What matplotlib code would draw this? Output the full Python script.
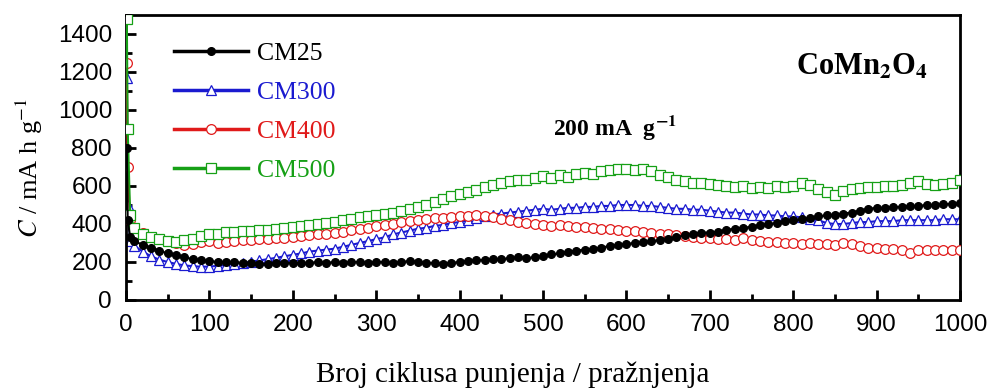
import numpy as np
import matplotlib.pyplot as plt
from matplotlib.ticker import MultipleLocator

plt.rcParams['mathtext.fontset'] = 'stix'

# cycle numbers: first few cycles, then every 10 cycles
cycles = [1, 2, 5] + list(range(10, 1001, 10))

cm25 = [800, 420, 330,
        310, 290, 275, 260, 245, 235, 225, 215, 210, 205,
        200, 200, 200, 195, 195, 190, 190, 195, 195, 195,
        195, 195, 200, 195, 200, 195, 200, 200, 195, 200,
        200, 195, 200, 205, 200, 195, 195, 190, 195, 200,
        205, 210, 210, 215, 215, 220, 225, 220, 225, 230,
        240, 245, 255, 260, 265, 270, 275, 285, 290, 295,
        300, 305, 310, 315, 320, 330, 340, 350, 355, 355,
        360, 370, 375, 380, 385, 395, 400, 405, 415, 420,
        425, 430, 440, 445, 450, 455, 460, 470, 480, 485,
        485, 490, 490, 495, 495, 500, 500, 505, 505, 510]

cm300 = [1170, 500, 310,
         285, 255, 230, 212, 200, 190, 182, 178, 175, 176,
         180, 185, 190, 196, 202, 208, 215, 222, 230, 238,
         245, 255, 260, 265, 270, 280, 290, 300, 310, 320,
         330, 345, 355, 365, 375, 380, 390, 395, 405, 410,
         420, 430, 440, 450, 455, 460, 465, 470, 475, 480,
         475, 480, 485, 485, 490, 490, 495, 495, 500, 500,
         500, 495, 495, 490, 485, 480, 480, 475, 475, 470,
         465, 460, 460, 455, 450, 450, 445, 445, 440, 440,
         435, 425, 420, 405, 400, 400, 405, 410, 410, 415,
         415, 415, 420, 420, 420, 420, 420, 425, 425, 425]

cm400 = [1250, 700, 420,
         380, 355, 330, 320, 310, 300, 290, 295, 305, 310,
         300, 305, 310, 315, 315, 320, 320, 325, 325, 330,
         335, 340, 345, 350, 355, 360, 370, 375, 380, 390,
         395, 400, 410, 415, 420, 425, 430, 430, 435, 440,
         440, 445, 440, 435, 425, 420, 410, 405, 400, 395,
         390, 395, 390, 385, 385, 380, 375, 375, 370, 365,
         365, 360, 355, 350, 345, 340, 335, 330, 325, 325,
         320, 320, 315, 325, 315, 310, 305, 305, 300, 300,
         295, 300, 295, 295, 290, 300, 295, 285, 275, 275,
         270, 270, 265, 250, 265, 265, 265, 265, 265, 265]

cm500 = [1480, 900, 450,
         380, 345, 330, 320, 310, 305, 315, 320, 335, 345,
         350, 360, 360, 365, 365, 370, 370, 375, 380, 385,
         390, 395, 400, 405, 410, 420, 425, 435, 440, 450,
         455, 460, 470, 480, 490, 500, 515, 530, 545, 560,
         570, 580, 595, 605, 615, 625, 630, 630, 640, 655,
         640, 660, 650, 665, 670, 665, 680, 685, 690, 690,
         685, 690, 680, 660, 645, 630, 625, 615, 615, 610,
         605, 600, 595, 600, 590, 595, 590, 600, 595, 600,
         615, 605, 585, 570, 555, 575, 585, 590, 595, 595,
         600, 600, 605, 615, 625, 610, 605, 610, 615, 630]

names = ['CM25', 'CM300', 'CM400', 'CM500']
colors = ['#000000', '#1a1ad0', '#e01a1a', '#16a016']

serif = 'Liberation Serif'
sans = 'Liberation Sans'

fig = plt.figure(figsize=(9.92, 3.92), dpi=100)
ax = fig.add_axes([126 / 992, 1 - 300 / 392, 834 / 992, 285 / 392])

x = np.array(cycles)
h_black, = ax.plot(x, cm25, '-o', color=colors[0], mfc='k', mec='k',
                   ms=5.5, lw=1.5, zorder=5)
h_blue, = ax.plot(x, cm300, '-^', color=colors[1], mfc='white',
                  mec=colors[1], ms=7, mew=0.9, lw=1.5, zorder=2)
h_red, = ax.plot(x, cm400, '-o', color=colors[2], mfc='white',
                 mec=colors[2], ms=7, mew=0.9, lw=1.5, zorder=3)
h_green, = ax.plot(x, cm500, '-s', color=colors[3], mfc='white',
                   mec=colors[3], ms=6.5, mew=0.9, lw=1.5, zorder=4)

ax.set_xlim(0, 1000)
ax.set_ylim(0, 1500)
ax.xaxis.set_major_locator(MultipleLocator(100))
ax.xaxis.set_minor_locator(MultipleLocator(50))
ax.yaxis.set_major_locator(MultipleLocator(200))
ax.yaxis.set_minor_locator(MultipleLocator(100))
ax.tick_params(which='both', direction='in', top=False, right=False,
               width=2, labelsize=17.5)
ax.tick_params(which='major', length=7, pad=10)
ax.tick_params(which='minor', length=4)
for lab in ax.get_xticklabels() + ax.get_yticklabels():
    lab.set_fontfamily(sans)
for s in ax.spines.values():
    s.set_linewidth(2)

ax.set_xlabel('Broj ciklusa punjenja / pražnjenja', family=serif,
              fontsize=21)
ax.xaxis.set_label_coords(0.464, -0.216)
ax.set_ylabel(r'$C$ / mA h g$^{-1}$', family=serif, fontsize=19)
ax.yaxis.set_label_coords(-0.097, 0.463)

ax.text(0.586, 0.604, r'200 mA  g$^{\mathbf{-1}}$', transform=ax.transAxes,
        family=serif, fontsize=17, fontweight='bold', ha='center',
        va='center')
ax.text(0.883, 0.817, r'CoMn$_\mathbf{2}$O$_\mathbf{4}$',
        transform=ax.transAxes, family=serif, fontsize=22,
        fontweight='bold', ha='center', va='center')

leg = ax.legend([h_black, h_blue, h_red, h_green], names, loc='upper left',
                bbox_to_anchor=(0.042, 0.951), frameon=False, numpoints=1,
                handlelength=2.9, handletextpad=0.35, labelspacing=0.62,
                borderpad=0, prop={'family': serif, 'size': 18.5})
for t, c in zip(leg.get_texts(), colors):
    t.set_color(c)
for lh in leg.get_lines():
    lh.set_linewidth(2.5)

fig.savefig('out.png', dpi=100)
